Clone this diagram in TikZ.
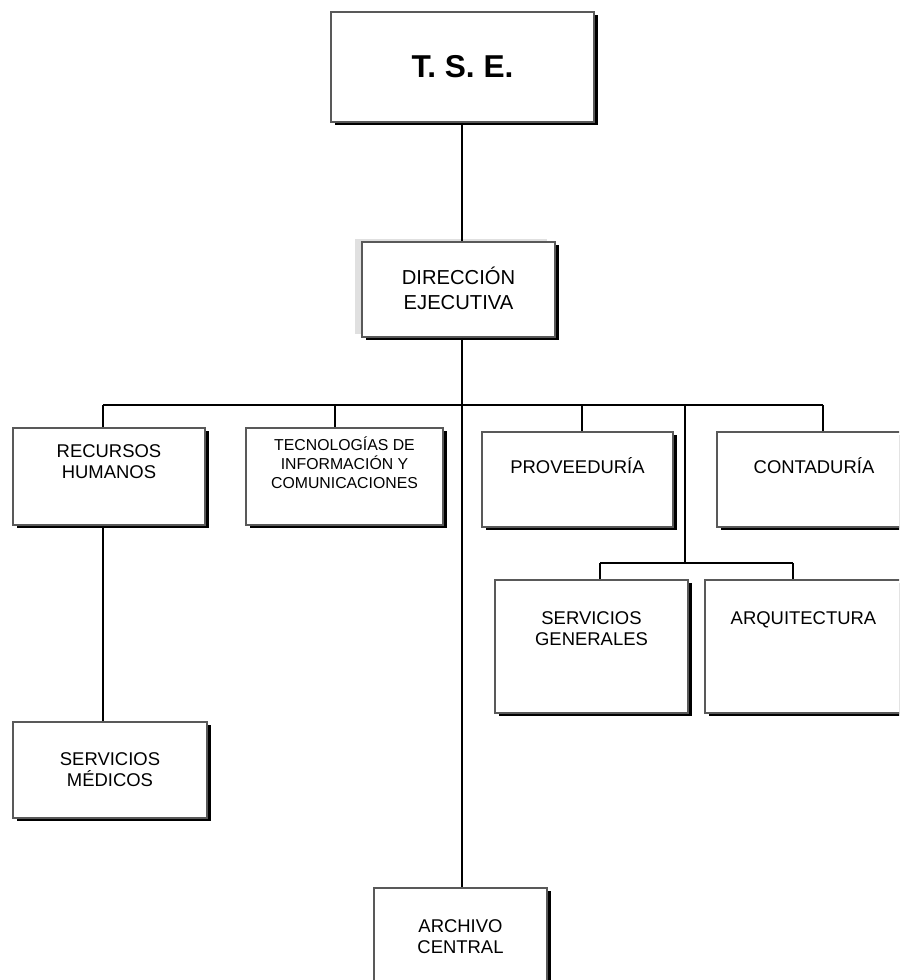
\documentclass[tikz,border=0pt]{standalone}
\usepackage{fontspec}
\setmainfont{Liberation Sans}
\usetikzlibrary{shadows}
\tikzset{
	unit/.style={draw=black!65, line width=1.1pt, fill=white, inner sep=0pt,
		drop shadow={shadow xshift=0.075cm, shadow yshift=-0.065cm, fill=black, opacity=1}},
	utext/.style={anchor=north, align=center, inner sep=0pt, font=\fontsize{10.5}{12}\selectfont},
	wire/.style={line width=1pt}
}

\begin{document}
\begin{tikzpicture}[x=0.02cm, y=-0.02cm]
		%%%%% START %%%%%
		\useasboundingbox (0, 0) rectangle (899, 980);
		\clip (0, 0) rectangle (899, 980);
		
		\node[unit, minimum width=5.26cm, minimum height=2.2cm, font=\bfseries\fontsize{18}{21}\selectfont] (tse) at (462.5, 67) {T. S. E.};
		
		\node[unit, general shadow={shadow xshift=-0.15cm, shadow yshift=0.06cm, fill=black!12}, minimum width=3.86cm, minimum height=1.9cm,
			label={[utext, font=\fontsize{11.5}{14}\selectfont, yshift=-0.52cm]north:DIRECCIÓN\\EJECUTIVA}] (dir) at (458.5, 289.5) {};
		
		\node[unit, minimum width=3.84cm, minimum height=1.94cm,
			label={[utext, yshift=-0.34cm]north:RECURSOS\\HUMANOS}] (rh) at (109, 476.5) {};
		\node[unit, minimum width=3.94cm, minimum height=1.94cm,
			label={[utext, font=\fontsize{9}{10.8}\selectfont, yshift=-0.18cm]north:TECNOLOGÍAS DE\\INFORMACIÓN Y\\COMUNICACIONES}] (tic) at (344.5, 476.5) {};
		\node[unit, minimum width=3.82cm, minimum height=1.9cm,
			label={[utext, yshift=-0.52cm]north:PROVEEDURÍA}] (prov) at (577.5, 479.5) {};
		% runs off the right edge
		\node[unit, minimum width=3.96cm, minimum height=1.9cm,
			label={[utext, xshift=-0.04cm, yshift=-0.52cm]north:CONTADURÍA}] (cont) at (816, 479.5) {};
		
		\node[unit, minimum width=3.86cm, minimum height=2.66cm,
			label={[utext, yshift=-0.64cm]north:SERVICIOS\\GENERALES}] (sg) at (591.5, 646.5) {};
		\node[unit, minimum width=4.2cm, minimum height=2.66cm,
			label={[utext, xshift=-0.13cm, yshift=-0.64cm]north:ARQUITECTURA}] (arq) at (810, 646.5) {};
		
		\node[unit, minimum width=3.88cm, minimum height=1.92cm,
			label={[utext, yshift=-0.62cm]north:SERVICIOS\\MÉDICOS}] (sm) at (110, 770) {};
		\node[unit, minimum width=3.46cm, minimum height=1.94cm,
			label={[utext, yshift=-0.64cm]north:ARCHIVO\\CENTRAL}] (arc) at (460.5, 936.5) {};
		
		% branch points
		\coordinate (b1) at (103, 405);
		\coordinate (b2) at (335, 405);
		\coordinate (b3) at (462, 405);
		\coordinate (b4) at (582, 405);
		\coordinate (b5) at (685, 405);
		\coordinate (b6) at (823, 405);
		\coordinate (s0) at (685, 563);
		\coordinate (s1) at (600, 563);
		\coordinate (s2) at (793, 563);
		
		\draw[wire] (tse.south -| b3) -- (dir.north -| b3);
		\draw[wire] (dir.south -| b3) -- (arc.north -| b3);
		\draw[wire] (b1) -- (b6);
		\draw[wire] (b1) -- (b1 |- rh.north);
		\draw[wire] (b2) -- (b2 |- tic.north);
		\draw[wire] (b4) -- (b4 |- prov.north);
		\draw[wire] (b6) -- (b6 |- cont.north);
		\draw[wire] (b5) -- (s0);
		\draw[wire] (s1) -- (s2);
		\draw[wire] (s1) -- (s1 |- sg.north);
		\draw[wire] (s2) -- (s2 |- arq.north);
		\draw[wire] (rh.south -| b1) -- (sm.north -| b1);
		%%%%% END %%%%%
	\end{tikzpicture}
\end{document}
